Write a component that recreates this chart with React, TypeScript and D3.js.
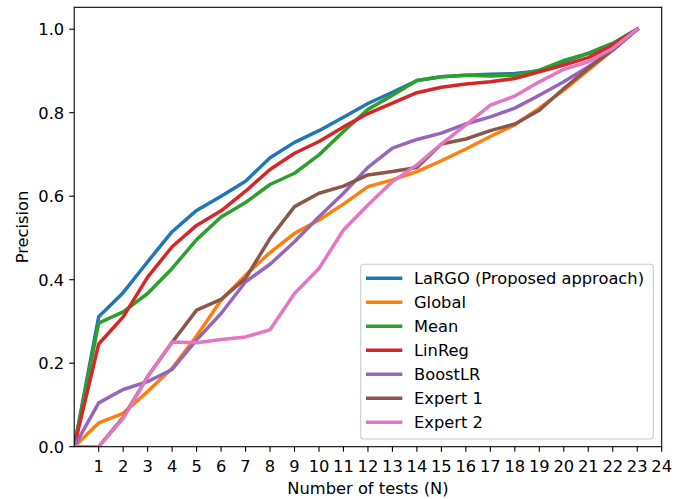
import React from "react";
import * as d3 from "d3";

const xs = d3.range(0, 24);
const seriesNames = ["LaRGO (Proposed approach)", "Global", "Mean", "LinReg", "BoostLR", "Expert 1", "Expert 2"];
const colors = ["#1f77b4", "#ff7f0e", "#2ca02c", "#d62728", "#9467bd", "#8c564b", "#e377c2"];

const largo = [0, 0.311, 0.369, 0.443, 0.515, 0.566, 0.6, 0.636, 0.692, 0.729, 0.757, 0.789, 0.822, 0.849, 0.877, 0.886, 0.89, 0.892, 0.894, 0.9, 0.922, 0.942, 0.966, 1.0];
const globalS = [0, 0.057, 0.08, 0.132, 0.188, 0.265, 0.351, 0.411, 0.465, 0.511, 0.543, 0.581, 0.623, 0.639, 0.659, 0.685, 0.713, 0.743, 0.771, 0.811, 0.854, 0.902, 0.95, 1.0];
const mean = [0, 0.296, 0.323, 0.367, 0.427, 0.496, 0.55, 0.585, 0.628, 0.655, 0.699, 0.755, 0.808, 0.842, 0.877, 0.886, 0.89, 0.888, 0.89, 0.902, 0.925, 0.942, 0.966, 1.0];
const linreg = [0, 0.246, 0.311, 0.406, 0.479, 0.53, 0.565, 0.612, 0.664, 0.703, 0.731, 0.766, 0.798, 0.823, 0.848, 0.861, 0.869, 0.874, 0.882, 0.898, 0.914, 0.932, 0.962, 1.0];
const boostlr = [0, 0.105, 0.137, 0.156, 0.185, 0.256, 0.319, 0.395, 0.437, 0.491, 0.551, 0.607, 0.669, 0.715, 0.736, 0.751, 0.773, 0.79, 0.811, 0.842, 0.874, 0.91, 0.95, 1.0];
const expert1 = [0, 0, 0.07, 0.168, 0.25, 0.327, 0.353, 0.403, 0.499, 0.575, 0.607, 0.624, 0.651, 0.659, 0.669, 0.725, 0.737, 0.757, 0.773, 0.806, 0.858, 0.906, 0.952, 1.0];
const expert2 = [0, 0, 0.068, 0.168, 0.251, 0.249, 0.257, 0.263, 0.28, 0.367, 0.427, 0.519, 0.579, 0.635, 0.675, 0.725, 0.771, 0.818, 0.84, 0.874, 0.904, 0.922, 0.954, 1.0];
const allSeries = [largo, globalS, mean, linreg, boostlr, expert1, expert2];

const xTicks = d3.range(1, 25);
const yTicks = [0, 0.2, 0.4, 0.6, 0.8, 1.0];

const W = 685, H = 499;
const L = 74.2, R = 661.7, T = 7.3, B = 446.7;
const FONT = "DejaVu Sans, sans-serif";
const FS = 16.3;

export default function App() {
  const x = d3.scaleLinear().domain([0, 24]).range([L, R]);
  const y = d3.scaleLinear().domain([0, 1.0525]).range([B, T]);
  const line = d3.line<number>().x((_, i) => x(xs[i])).y((d) => y(d));

  const legX = 360.7, legY = 264.3, legW = 292.6, legH = 174.7;
  const rowH = 24.0;
  const firstRow = 278.3;

  return (
    <svg width={W} height={H} style={{ position: "absolute", left: 0, top: 0, background: "white" }} fontFamily={FONT}>
      <rect x={0} y={0} width={W} height={H} fill="white" />
      <defs>
        <clipPath id="plot">
          <rect x={L} y={T} width={R - L} height={B - T} />
        </clipPath>
      </defs>
      <g clipPath="url(#plot)">
        {allSeries.map((s, i) => (
          <path key={i} d={line(s) || ""} fill="none" stroke={colors[i]} strokeWidth={3.5} strokeLinejoin="round" strokeLinecap="square" />
        ))}
      </g>
      <rect x={L} y={T} width={R - L} height={B - T} fill="none" stroke="black" strokeWidth={1.1} />
      {yTicks.map((t) => (
        <g key={"y" + t}>
          <line x1={L - 5} x2={L} y1={y(t)} y2={y(t)} stroke="black" strokeWidth={1.1} />
          <text x={L - 10} y={y(t)} dy="0.36em" textAnchor="end" fontSize={FS} fill="black">{t.toFixed(1)}</text>
        </g>
      ))}
      {xTicks.map((t) => (
        <g key={"x" + t}>
          <line x1={x(t)} x2={x(t)} y1={B} y2={B + 5} stroke="black" strokeWidth={1.1} />
          <text x={x(t)} y={B + 25} textAnchor="middle" fontSize={FS} fill="black">{t}</text>
        </g>
      ))}
      <text x={(L + R) / 2} y={493.5} textAnchor="middle" fontSize={FS} fill="black">Number of tests (N)</text>
      <text transform={`translate(27.5, ${(T + B) / 2}) rotate(-90)`} textAnchor="middle" fontSize={FS} fill="black">Precision</text>
      <rect x={legX} y={legY} width={legW} height={legH} rx={3} fill="white" fillOpacity={0.8} stroke="#cccccc" strokeWidth={1.1} />
      {seriesNames.map((n, i) => {
        const cy = firstRow + i * rowH;
        return (
          <g key={n}>
            <line x1={366} x2={402.3} y1={cy} y2={cy} stroke={colors[i]} strokeWidth={3.5} />
            <text x={414} y={cy} dy="0.36em" fontSize={FS} fill="black">{n}</text>
          </g>
        );
      })}
    </svg>
  );
}
